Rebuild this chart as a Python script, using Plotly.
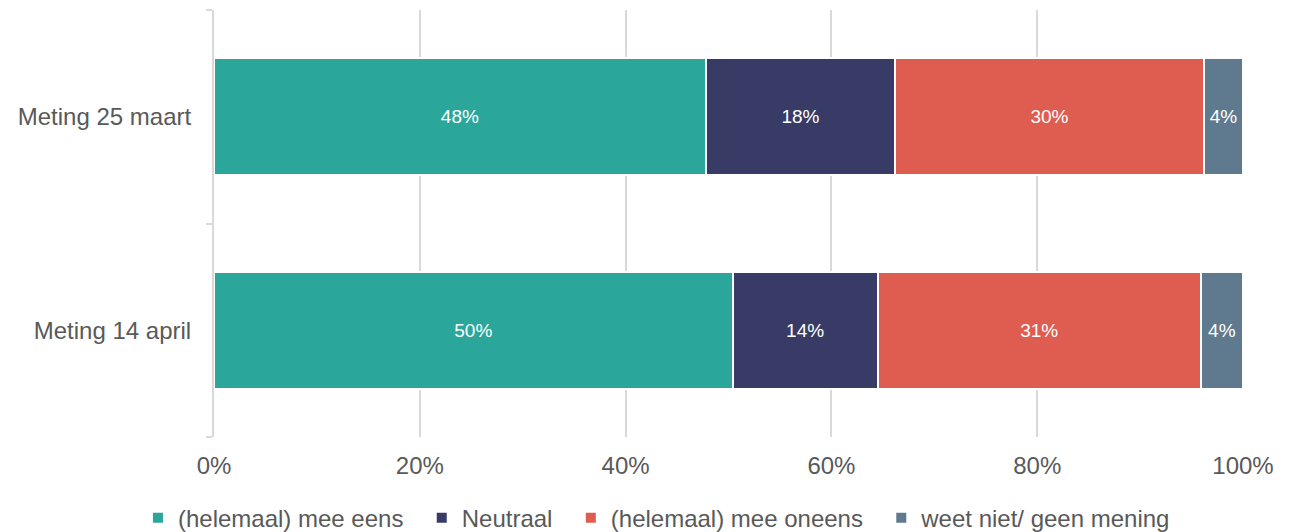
import plotly.graph_objects as go

categories = ["Meting 14 april", "Meting 25 maart"]
series_names = ["(helemaal) mee eens", "Neutraal", "(helemaal) mee oneens", "weet niet/ geen mening"]
eens = [50.4, 47.8]
neutraal = [14.1, 18.4]
oneens = [31.4, 30.0]
weet_niet = [4.1, 3.8]
colors = ["#2BA69B", "#383B66", "#DE5C50", "#5F7A8E"]
x_ticks = [0, 20, 40, 60, 80, 100]
x_tick_labels = ["0%", "20%", "40%", "60%", "80%", "100%"]

pad = "\u00a0\u00a0"
fig = go.Figure()
for i, (name, vals, col) in enumerate(zip(series_names, [eens, neutraal, oneens, weet_niet], colors)):
    shown = name + (pad if i < len(series_names) - 1 else "")
    fig.add_trace(go.Bar(
        y=categories, x=vals, name=shown, orientation="h",
        marker=dict(color=col, line=dict(color="white", width=2)),
        texttemplate="%{x:.0f}%", textposition="inside", insidetextanchor="middle",
        textangle=0, constraintext="none",
        textfont=dict(color="white", size=19, family="Liberation Sans"),
        hoverinfo="x+name",
    ))

fig.update_layout(
    barmode="stack", bargap=0.452,
    width=1286, height=524,
    margin=dict(l=206, r=51, t=2, b=95, autoexpand=False),
    paper_bgcolor="white", plot_bgcolor="white",
    font=dict(family="Liberation Sans", color="#595959"),
    uniformtext=dict(mode="show", minsize=10),
    legend=dict(orientation="h", x=-0.0739, xanchor="left", xref="paper",
                y=-0.19, yanchor="middle", yref="paper",
                font=dict(size=24, color="#595959"), traceorder="normal",
                itemwidth=30),
    showlegend=True,
)
fig.update_xaxes(
    range=[0, 100], tickvals=x_ticks, ticktext=x_tick_labels, tickangle=0,
    showgrid=True, gridcolor="#D9D9D9", gridwidth=2,
    zeroline=False, showline=False, ticks="",
    tickfont=dict(size=24, color="#595959"), ticklabelstandoff=12,
)
fig.update_yaxes(
    categoryorder="array", categoryarray=categories,
    showline=True, linecolor="#D9D9D9", linewidth=2,
    ticks="outside", tickson="boundaries", ticklen=6, tickcolor="#D9D9D9", tickwidth=2,
    tickfont=dict(size=24, color="#595959"), ticklabelstandoff=16,
)
fig.write_html("out.html")
